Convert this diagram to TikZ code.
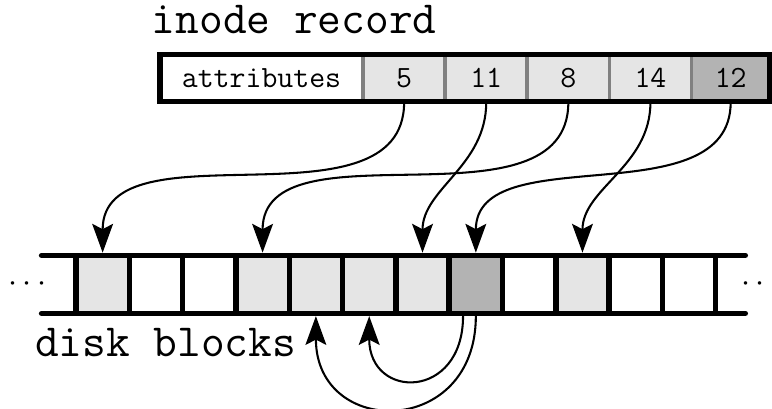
\documentclass[tikz,border=0pt]{standalone}
\usepackage{xcolor}
\usepackage{tikz}
\usetikzlibrary{positioning,arrows.meta}
\definecolor{used}{RGB}{229,229,229}
\definecolor{indirect}{RGB}{179,179,179}
\definecolor{fieldsep}{RGB}{128,128,128}
\tikzset{
  blk/.style={draw, line width=2.9pt, minimum width=1cm, minimum height=1.088cm, inner sep=0pt},
  fld/.style={minimum width=1.54cm, minimum height=0.891cm, inner sep=0pt, font=\fontsize{16.5}{18}\selectfont\ttfamily},
  ptr/.style={line width=1.1pt, -{Stealth[length=5.4mm,width=3.9mm,inset=1mm]}},
  bigtt/.style={inner sep=0pt, anchor=base west, font=\fontsize{24.6}{28}\selectfont\ttfamily}
}

\begin{document}
\begin{tikzpicture}
\useasboundingbox (0,0) rectangle (14.48,7.67);
% inode record
\node[bigtt] (title) at (2.84,7.036) {inode record};
\node[fld, fill=white, minimum width=3.81cm] (attr) at (4.905,6.2055) {attributes};
\node[fld, fill=used] (i5) at (7.58,6.2055) {5};
\node[fld, fill=used] (i11) at (9.12,6.2055) {11};
\node[fld, fill=used] (i8) at (10.66,6.2055) {8};
\node[fld, fill=used] (i14) at (12.20,6.2055) {14};
\node[fld, fill=indirect, minimum width=1.47cm] (i12) at (13.705,6.2055) {12};
\draw[fieldsep, line width=2pt] (6.81,5.76) -- (6.81,6.651) (8.35,5.76) -- (8.35,6.651)
  (9.89,5.76) -- (9.89,6.651) (11.43,5.76) -- (11.43,6.651) (12.97,5.76) -- (12.97,6.651);
\draw[line width=2.8pt] (3.0,5.76) rectangle (14.44,6.651); % record border
% disk blocks
\draw[line width=2.9pt, line cap=round] (0.78,2.88) -- (13.98,2.88); % top rail
\draw[line width=2.9pt, line cap=round] (0.78,1.792) -- (13.98,1.792); % bottom rail
\node[blk, fill=used] (b5) at (1.925,2.336) {};
\node[blk] (b6) at (2.925,2.336) {};
\node[blk] (b7) at (3.925,2.336) {};
\node[blk, fill=used] (b8) at (4.925,2.336) {};
\node[blk, fill=used] (b9) at (5.925,2.336) {};
\node[blk, fill=used] (b10) at (6.925,2.336) {};
\node[blk, fill=used] (b11) at (7.925,2.336) {};
\node[blk, fill=indirect] (b12) at (8.925,2.336) {};
\node[blk] (b13) at (9.925,2.336) {};
\node[blk, fill=used] (b14) at (10.925,2.336) {};
\node[blk] (b15) at (11.925,2.336) {};
\node[blk] (b16) at (12.925,2.336) {};
\node[bigtt] (label) at (0.65,0.976) {disk blocks};
% Dots
\node[anchor=base, inner sep=0pt] (moreleft) at (0.51,2.2) {\fontsize{18}{20}\selectfont$\cdots$};
\node[anchor=base, inner sep=0pt] (moreright) at (14.26,2.2) {\fontsize{18}{20}\selectfont$\cdots$};
% Pointers
\draw[ptr] (i5.south) to[out=-90,in=90] (b5.north);
\draw[ptr] (i11.south) to[out=-90,in=90] (b11.north);
\draw[ptr] (i8.south) to[out=-90,in=90] (b8.north);
\draw[ptr] (i14.south) to[out=-90,in=90] (b14.north);
\draw[ptr] (i12.south) to[out=-90,in=90] (b12.north);
\draw[ptr] (b12.south) to[out=-90,in=-90,looseness=1.96] (b9.south);
\draw[ptr] ([xshift=-2.4mm]b12.south) to[out=-90,in=-90,looseness=2.3] (b10.south);
\end{tikzpicture}
\end{document}
